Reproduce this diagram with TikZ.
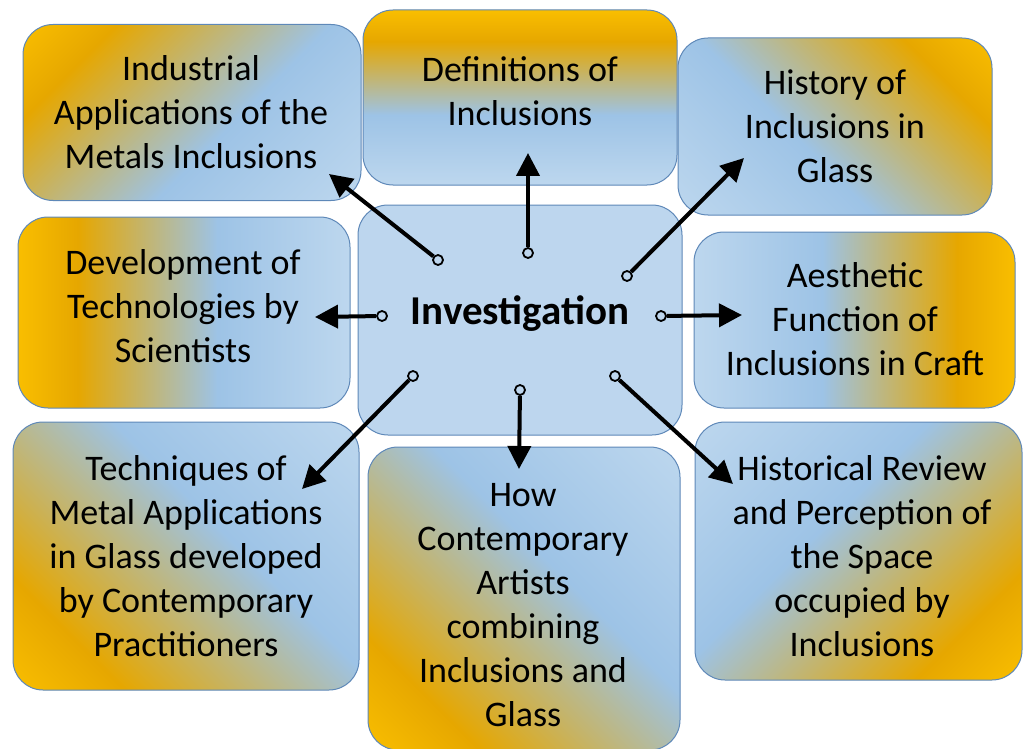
\documentclass[tikz,border=0pt]{standalone}
\usepackage{fontspec}
\setmainfont{Carlito}
\usetikzlibrary{arrows.meta}

% gradient colours: warm orange fading into a pale blue
\definecolor{gOrange}{HTML}{F9BE00}
\definecolor{gDeep}{HTML}{E6A700}
\definecolor{gBlue}{HTML}{9DC3E6}
\definecolor{gPale}{HTML}{BDD7EE}
\definecolor{hubFill}{HTML}{BDD6EE}
\definecolor{edgeBlue}{HTML}{5E88B8}

% axis-aligned version: the colour run fills the central 25bp..75bp band
\pgfdeclarehorizontalshading{oneway}{100bp}{color(0bp)=(gOrange); color(25bp)=(gOrange);
  color(34bp)=(gDeep); color(55bp)=(gBlue); color(75bp)=(gPale); color(100bp)=(gPale)}
% diagonal version: the run spans corner to corner after a 45 degree turn
\pgfdeclarehorizontalshading{slant}{100bp}{color(0bp)=(gOrange); color(14.6bp)=(gOrange);
  color(27.4bp)=(gDeep); color(57.1bp)=(gBlue); color(85.4bp)=(gPale); color(100bp)=(gPale)}

\begin{document}
\begin{tikzpicture}[x=1pt,y=-1pt,
  topic/.style={rectangle, rounded corners=30pt, draw=edgeBlue, line width=1pt, inner sep=0pt},
  straight/.style={topic, shade, shading=oneway, shading angle=#1},
  diag/.style={topic, shade, shading=slant, shading angle=#1},
  words/.style={align=center, inner sep=0pt, font=\fontsize{36}{44}\selectfont},
  knob/.style={circle, draw=black, line width=1.8pt, fill=hubFill, minimum size=10pt, inner sep=0pt},
  ray/.style={line width=4pt, -{Triangle[length=23pt,width=23pt]}}]

\useasboundingbox (0,0) rectangle (1023,749);

% outer topic boxes
\node[diag=-45, minimum width=338pt, minimum height=176pt] (b1) at (192,112.5) {};
\node[straight=-90, minimum width=314pt, minimum height=175pt] (b2) at (520,97.5) {};
\node[diag=225, minimum width=314pt, minimum height=177pt] (b3) at (835,126.5) {};
\node[straight=0, minimum width=332pt, minimum height=191pt] (b4) at (184,312.5) {};
\node[straight=180, minimum width=321pt, minimum height=176pt] (b6) at (854.5,320) {};
\node[diag=45, minimum width=346pt, minimum height=268pt] (b7) at (186,556) {};
\node[diag=45, minimum width=312pt, minimum height=303pt] (b8) at (524,598.5) {};
\node[diag=135, minimum width=327pt, minimum height=258pt] (b9) at (858.5,551) {};

% central hub
\node[topic, fill=hubFill, minimum width=324pt, minimum height=230pt] (b5) at (520,320) {};

% texts
\node[words] (t1) at (191,112) {Industrial\\Applications of the\\Metals Inclusions};
\node[words] (t2) at (520,91.5) {Definitions of\\Inclusions};
\node[words] (t3) at (835,126) {History of\\Inclusions in\\Glass};
\node[words] (t4) at (183,306.5) {Development of\\Technologies by\\Scientists};
\node[words, font=\fontsize{41}{44}\selectfont\bfseries] (t5) at (520,314) {Investigation};
\node[words] (t6) at (855,319) {Aesthetic\\Function of\\Inclusions in Craft};
\node[words] (t7) at (186,556) {Techniques of\\Metal Applications\\in Glass developed\\by Contemporary\\Practitioners};
\node[words] (t8) at (523,605) {How\\Contemporary\\Artists\\combining\\Inclusions and\\Glass};
\node[words] (t9) at (862,556) {Historical Review\\and Perception of\\the Space\\occupied by\\Inclusions};

% start knobs inside the hub
\node[knob] (k1) at (438,260) {};
\node[knob] (k2) at (528,253) {};
\node[knob] (k3) at (627,276) {};
\node[knob] (k4) at (382,316) {};
\node[knob] (k6) at (661,316) {};
\node[knob] (k7) at (413,376) {};
\node[knob] (k8) at (520,390) {};
\node[knob] (k9) at (615,376) {};

% arrow ends inside the topic boxes
\coordinate (e1) at (329,174);
\coordinate (e2) at (528,153);
\coordinate (e3) at (744,158);
\coordinate (e4) at (315,317);
\coordinate (e6) at (742,315);
\coordinate (e7) at (302,489);
\coordinate (e8) at (519,469);
\coordinate (e9) at (733,484);

\draw[ray] (k1) -- (e1);
\draw[ray] (k2) -- (e2);
\draw[ray] (k3) -- (e3);
\draw[ray] (k4) -- (e4);
\draw[ray] (k6) -- (e6);
\draw[ray] (k7) -- (e7);
\draw[ray] (k8) -- (e8);
\draw[ray] (k9) -- (e9);
\end{tikzpicture}
\end{document}
